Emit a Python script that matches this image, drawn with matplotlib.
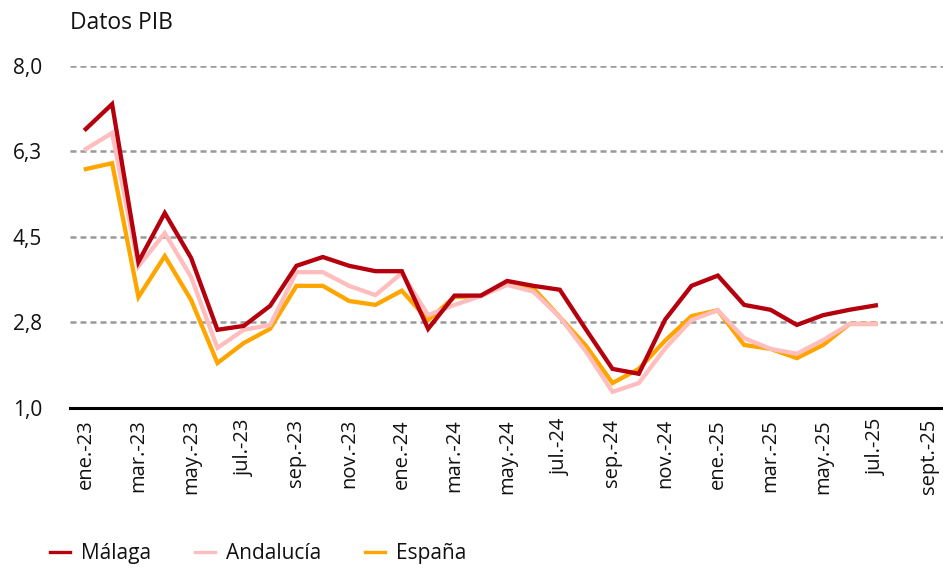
import matplotlib
matplotlib.use("Agg")
import matplotlib.pyplot as plt
from matplotlib.lines import Line2D

# meses ene.-23 ... sept.-25
meses = ["ene.-23", "feb.-23", "mar.-23", "abr.-23", "may.-23", "jun.-23",
         "jul.-23", "ago.-23", "sep.-23", "oct.-23", "nov.-23", "dic.-23",
         "ene.-24", "feb.-24", "mar.-24", "abr.-24", "may.-24", "jun.-24",
         "jul.-24", "ago.-24", "sep.-24", "oct.-24", "nov.-24", "dic.-24",
         "ene.-25", "feb.-25", "mar.-25", "abr.-25", "may.-25", "jun.-25",
         "jul.-25", "ago.-25", "sept.-25"]

malaga = [6.71, 7.22, 3.99, 4.99, 4.07, 2.60, 2.68, 3.09, 3.91, 4.09, 3.91,
          3.80, 3.80, 2.62, 3.30, 3.30, 3.60, 3.50, 3.42, 2.60, 1.80, 1.70,
          2.81, 3.50, 3.71, 3.11, 3.01, 2.70, 2.90, 3.01, 3.10]
andalucia = [6.30, 6.63, 3.90, 4.58, 3.68, 2.23, 2.60, 2.70, 3.78, 3.78, 3.50,
             3.31, 3.76, 2.90, 3.11, 3.29, 3.52, 3.38, 2.86, 2.15, 1.33, 1.51,
             2.22, 2.80, 3.00, 2.43, 2.21, 2.11, 2.39, 2.72, 2.72]
espana = [5.89, 6.01, 3.27, 4.11, 3.21, 1.92, 2.33, 2.62, 3.50, 3.50, 3.19,
          3.11, 3.40, 2.80, 3.27, 3.29, 3.56, 3.45, 2.86, 2.27, 1.51, 1.80,
          2.38, 2.88, 3.00, 2.29, 2.21, 2.02, 2.29, 2.72, 2.72]

yticks = [1.0, 2.75, 4.5, 6.25, 8.0]
ytick_labels = ["1,0", "2,8", "4,5", "6,3", "8,0"]

series = [("Málaga", malaga, "#B5000E"),
          ("Andalucía", andalucia, "#FFBDBD"),
          ("España", espana, "#FFA500")]

plt.rcParams["font.family"] = ["Open Sans", "DejaVu Sans"]

fig = plt.figure(figsize=(9.43, 5.69), dpi=100)
ax = fig.add_axes([0.0742, 0.283, 0.9258, 0.601])

# España y Andalucía debajo, Málaga encima
for nombre, datos, color in [series[2], series[1], series[0]]:
    ax.plot(range(len(datos)), datos, color=color, lw=3.1,
            solid_joinstyle="miter", zorder=3)

ax.set_ylim(1.0, 8.0)
ax.set_xlim(-0.6, 32.55)
ax.set_yticks(yticks)
ax.set_yticklabels(ytick_labels)
for y in yticks[1:]:
    ax.axhline(y, color="#999999", lw=1.8, ls=(0, (2.4, 1.6)), zorder=1)

ax.set_xticks(range(0, len(meses), 2))
ax.set_xticklabels(meses[::2], rotation=90, va="top", ha="center")

for s in ["top", "right", "left"]:
    ax.spines[s].set_visible(False)
ax.spines["bottom"].set_linewidth(2.2)
ax.spines["bottom"].set_color("black")
ax.tick_params(axis="both", length=0, colors="#111111")
ax.tick_params(axis="y", labelsize=15, pad=20)
ax.tick_params(axis="x", labelsize=14.5, pad=8)

fig.text(0.0742, 0.96, "Datos PIB", fontsize=16.5, ha="left", va="center",
         color="#111111")

handles = [Line2D([0], [0], color=c, lw=2.4) for _, _, c in series]
fig.legend(handles, [n for n, _, _ in series], loc="center left",
           bbox_to_anchor=(0.033, 0.027), ncol=3, frameon=False,
           fontsize=15, handlelength=0.95, handletextpad=0.55,
           columnspacing=2.1, labelcolor="#111111")

fig.savefig("out.png", dpi=100)
